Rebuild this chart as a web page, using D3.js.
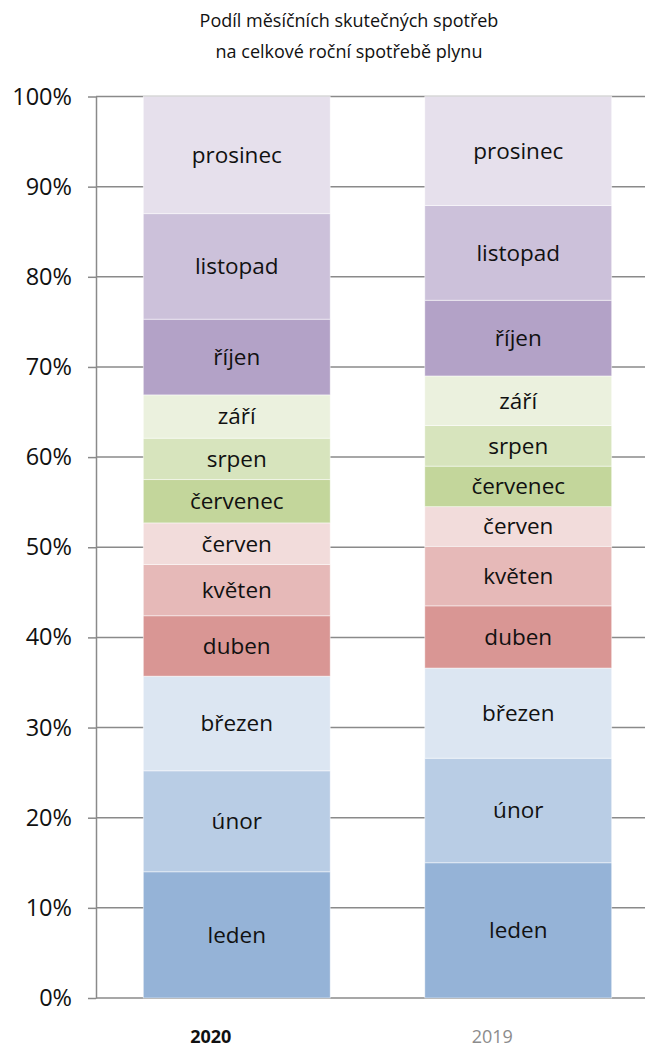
<!DOCTYPE html>
<html>
<head>
<meta charset="utf-8">
<script src="https://cdnjs.cloudflare.com/ajax/libs/d3/7.8.5/d3.min.js"></script>
<style>
    body { margin: 0; background: #fff; }
    .chart text { font-family: 'Open Sans', sans-serif; fill: #111; }
</style>
</head>
<body>
<div id="chart" class="chart"></div>
<script>
var years = ['2020', '2019'];
var months = ['leden', 'únor', 'březen', 'duben', 'květen', 'červen',
              'červenec', 'srpen', 'září', 'říjen', 'listopad', 'prosinec'];
var share2020 = [14.0, 11.2, 10.5, 6.7, 5.7, 4.6, 4.8, 4.6, 4.8, 8.4, 11.7, 13.0];
var share2019 = [15.0, 11.6, 10.0, 6.9, 6.6, 4.4, 4.5, 4.5, 5.5, 8.4, 10.5, 12.1];
var yTicks = [0, 10, 20, 30, 40, 50, 60, 70, 80, 90, 100];
var titleLines = ['Podíl měsíčních skutečných spotřeb', 'na celkové roční spotřebě plynu'];

var monthColors = ['#95b3d7', '#b9cde5', '#dce6f2', '#d99694', '#e6b9b8', '#f2dcdb',
                   '#c3d69b', '#d7e4bd', '#ebf1de', '#b3a2c7', '#ccc1da', '#e6e0ec'];

var width = 645;
var height = 1050;

//rows for d3.stack, one per year
var table = years.map(function(year, i){
    var values = i === 0 ? share2020 : share2019;
    var row = { year: year };
    months.forEach(function(m, j){ row[m] = values[j]; });
    return row;
});

var svg = d3.select('#chart')
    .append('svg')
    .attr('width', width)
    .attr('height', height)
    .style('display', 'block');

var x = d3.scaleBand()
    .domain(years)
    .range([96, 659])
    .paddingInner(0.336)
    .paddingOuter(0.168);

var y = d3.scaleLinear()
    .domain([0, 100])
    .range([998, 96.5]);

var color = d3.scaleOrdinal()
    .domain(months)
    .range(monthColors);

//title
svg.append('g')
    .attr('class', 'title')
    .selectAll('text')
    .data(titleLines)
    .enter()
    .append('text')
    .attr('x', 349)
    .attr('y', function(d, i){ return 27 + i * 31; })
    .attr('text-anchor', 'middle')
    .style('font-size', '18px')
    .text(function(d){ return d; });

//gridlines
svg.append('g')
    .attr('class', 'grid')
    .selectAll('line')
    .data(yTicks)
    .enter()
    .append('line')
    .attr('x1', 96)
    .attr('x2', width)
    .attr('y1', function(d){ return y(d); })
    .attr('y2', function(d){ return y(d); })
    .style('stroke', '#8a8a8a')
    .style('stroke-width', 1.5);

//y axis
var yAxis = svg.append('g')
    .attr('class', 'y-axis')
    .attr('transform', 'translate(96,0)')
    .call(d3.axisLeft(y)
        .tickValues(yTicks)
        .tickSize(8)
        .tickSizeOuter(0)
        .tickPadding(16)
        .tickFormat(function(d){ return d + '%'; }));

yAxis.select('.domain')
    .style('stroke', '#8a8a8a')
    .style('stroke-width', 1.5);
yAxis.selectAll('.tick line')
    .style('stroke', '#8a8a8a')
    .style('stroke-width', 1.5);
yAxis.selectAll('.tick text')
    .style('font-size', '23.5px')
    .style('font-family', "'Open Sans', sans-serif")
    .style('fill', '#111');

//stacked bars
var series = d3.stack().keys(months)(table);

var layers = svg.append('g')
    .attr('class', 'bars')
    .selectAll('g')
    .data(series)
    .enter()
    .append('g')
    .style('fill', function(d){ return color(d.key); });

layers.selectAll('rect')
    .data(function(d){ return d; })
    .enter()
    .append('rect')
    .attr('x', function(d){ return x(d.data.year); })
    .attr('y', function(d){ return y(d[1]); })
    .attr('width', x.bandwidth())
    .attr('height', function(d){ return y(d[0]) - y(d[1]); })
    .style('stroke', 'rgba(255,255,255,0.6)')
    .style('stroke-width', 0.8);

//month labels inside segments
layers.each(function(s){
    d3.select(this).selectAll('text')
        .data(s)
        .enter()
        .append('text')
        .attr('x', function(d){ return x(d.data.year) + x.bandwidth() / 2; })
        .attr('y', function(d){ return (y(d[0]) + y(d[1])) / 2; })
        .attr('dy', '0.35em')
        .attr('text-anchor', 'middle')
        .style('font-size', '22.5px')
        .text(s.key);
});

//year labels, sitting a little left of the bar centres like the original
svg.append('g')
    .attr('class', 'x-labels')
    .selectAll('text')
    .data(years)
    .enter()
    .append('text')
    .attr('x', function(d){ return x(d) + x.bandwidth() / 2 - 26; })
    .attr('y', 1043)
    .attr('text-anchor', 'middle')
    .style('font-size', '18px')
    .style('font-weight', function(d, i){ return i === 0 ? 'bold' : 'normal'; })
    .style('fill', function(d, i){ return i === 0 ? '#111' : '#8c8c8c'; })
    .text(function(d){ return d; });
</script>
</body>
</html>
